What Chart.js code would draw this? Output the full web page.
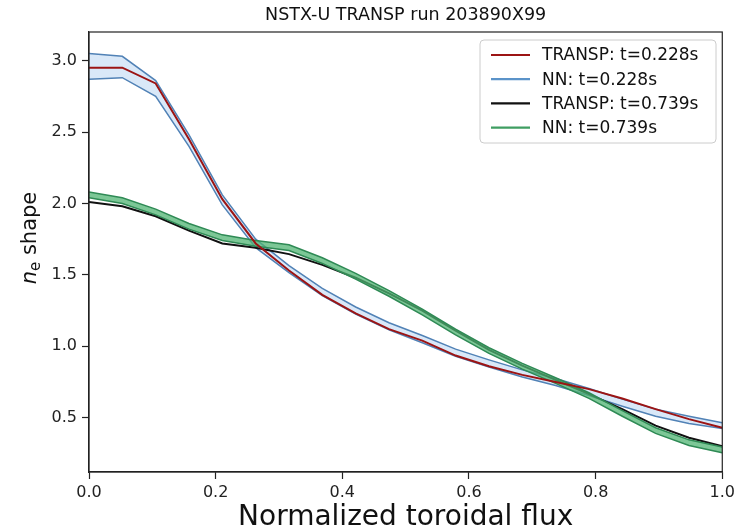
<!DOCTYPE html>
<html>
<head>
<meta charset="utf-8">
<script src="https://cdn.jsdelivr.net/npm/chart.js@4.4.1/dist/chart.umd.min.js"></script>
<style>
  html, body { margin: 0; padding: 0; background: #fff; }
  #wrap { width: 739px; height: 530px; }
</style>
</head>
<body>
<div id="wrap"><canvas id="chart" width="739" height="530"></canvas></div>
<script>
// Normalized toroidal flux grid (20 points)
const flux = [0, 0.0526, 0.1053, 0.1579, 0.2105, 0.2632, 0.3158, 0.3684, 0.4211, 0.4737,
              0.5263, 0.5789, 0.6316, 0.6842, 0.7368, 0.7895, 0.8421, 0.8947, 0.9474, 1.0];

// t = 0.228 s
const transpEarly = [2.95, 2.95, 2.84, 2.45, 2.03, 1.72, 1.53, 1.36, 1.23, 1.12,
                     1.04, 0.935, 0.86, 0.80, 0.75, 0.70, 0.635, 0.56, 0.49, 0.43];
const nnEarlyHigh = [3.05, 3.03, 2.86, 2.48, 2.06, 1.75, 1.565, 1.405, 1.275, 1.165,
                     1.075, 0.98, 0.905, 0.835, 0.775, 0.705, 0.63, 0.56, 0.51, 0.465];
const nnEarlyLow  = [2.87, 2.88, 2.75, 2.40, 1.99, 1.69, 1.515, 1.355, 1.225, 1.115,
                     1.025, 0.93, 0.855, 0.785, 0.725, 0.655, 0.58, 0.51, 0.46, 0.425];

// t = 0.739 s
const transpLate = [2.01, 1.98, 1.91, 1.81, 1.72, 1.69, 1.645, 1.57, 1.48, 1.37,
                    1.25, 1.11, 0.975, 0.865, 0.765, 0.665, 0.56, 0.445, 0.36, 0.30];
const nnLateHigh = [2.08, 2.04, 1.96, 1.86, 1.78, 1.74, 1.71, 1.62, 1.51, 1.39,
                    1.26, 1.12, 0.99, 0.88, 0.78, 0.675, 0.55, 0.43, 0.345, 0.295];
const nnLateLow  = [2.04, 2.00, 1.92, 1.82, 1.74, 1.70, 1.67, 1.58, 1.47, 1.35,
                    1.22, 1.08, 0.95, 0.84, 0.74, 0.635, 0.51, 0.39, 0.305, 0.255];

const xTicks = [0.0, 0.2, 0.4, 0.6, 0.8, 1.0];
const yTicks = [0.5, 1.0, 1.5, 2.0, 2.5, 3.0];

const legendLabels = ["TRANSP: t=0.228s", "NN: t=0.228s", "TRANSP: t=0.739s", "NN: t=0.739s"];
const legendColors = ["#9c1414", "#5b93c9", "#111111", "#3f9e62"];

const FONT = "'DejaVu Sans', sans-serif";

function pts(ys) {
    return flux.map((x, i) => ({ x: x, y: ys[i] }));
}

// Marco, títulos y leyenda dibujados sobre el lienzo
const decorPlugin = {
    id: "decor",
    afterDraw(chart) {
        const ctx = chart.ctx;
        const a = chart.chartArea;
        ctx.save();

        // frame
        ctx.strokeStyle = "#222";
        ctx.lineWidth = 1.2;
        ctx.strokeRect(a.left, a.top, a.right - a.left, a.bottom - a.top);

        // title
        ctx.fillStyle = "#111";
        ctx.textAlign = "center";
        ctx.textBaseline = "alphabetic";
        ctx.font = "17.5px " + FONT;
        ctx.fillText("NSTX-U TRANSP run 203890X99", (a.left + a.right) / 2, 20);

        // x title
        ctx.font = "28px " + FONT;
        ctx.fillText("Normalized toroidal flux", (a.left + a.right) / 2, 525);

        // y title: n_e shape
        ctx.save();
        ctx.translate(36, 238);
        ctx.rotate(-Math.PI / 2);
        ctx.textAlign = "left";
        const fs = 21;
        ctx.font = "oblique " + fs + "px " + FONT;
        const wn = ctx.measureText("n").width;
        ctx.font = Math.round(fs * 0.7) + "px " + FONT;
        const we = ctx.measureText("e").width;
        ctx.font = fs + "px " + FONT;
        const ws = ctx.measureText(" shape").width;
        const total = wn + we + ws;
        let x0 = -total / 2;
        ctx.font = "oblique " + fs + "px " + FONT;
        ctx.fillText("n", x0, 0);
        ctx.font = Math.round(fs * 0.7) + "px " + FONT;
        ctx.fillText("e", x0 + wn, 4);
        ctx.font = fs + "px " + FONT;
        ctx.fillText(" shape", x0 + wn + we, 0);
        ctx.restore();

        // legend
        const bx = 480, by = 40, bw = 236, bh = 103;
        ctx.fillStyle = "rgba(255,255,255,0.85)";
        ctx.strokeStyle = "#cccccc";
        ctx.lineWidth = 1;
        ctx.beginPath();
        ctx.roundRect(bx, by, bw, bh, 4);
        ctx.fill();
        ctx.stroke();
        ctx.font = "17px " + FONT;
        ctx.textAlign = "left";
        ctx.textBaseline = "middle";
        legendLabels.forEach((lab, i) => {
            const y = by + 15 + i * 24.2;
            ctx.strokeStyle = legendColors[i];
            ctx.lineWidth = 2.2;
            ctx.beginPath();
            ctx.moveTo(bx + 11, y);
            ctx.lineTo(bx + 50, y);
            ctx.stroke();
            ctx.fillStyle = "#111";
            ctx.fillText(lab, bx + 62, y + 1);
        });

        ctx.restore();
    }
};

const ctx = document.getElementById("chart").getContext("2d");

new Chart(ctx, {
    type: "line",
    data: {
        datasets: [
            {
                label: "TRANSP: t=0.228s",
                data: pts(transpEarly),
                borderColor: "#9c1414",
                borderWidth: 2,
                order: 1,
            },
            {
                label: "NN high t=0.739s",
                data: pts(nnLateHigh),
                borderColor: "#2f8a55",
                borderWidth: 1.5,
                order: 2,
            },
            {
                label: "NN: t=0.739s",
                data: pts(nnLateLow),
                borderColor: "#2f8a55",
                borderWidth: 1.5,
                backgroundColor: "rgba(80,180,115,0.75)",
                fill: "-1",
                order: 3,
            },
            {
                label: "TRANSP: t=0.739s",
                data: pts(transpLate),
                borderColor: "#111111",
                borderWidth: 2,
                order: 4,
            },
            {
                label: "NN high t=0.228s",
                data: pts(nnEarlyHigh),
                borderColor: "#5182b6",
                borderWidth: 1.5,
                order: 5,
            },
            {
                label: "NN: t=0.228s",
                data: pts(nnEarlyLow),
                borderColor: "#5182b6",
                borderWidth: 1.5,
                backgroundColor: "rgba(170,205,240,0.45)",
                fill: "-1",
                order: 6,
            },
        ],
    },
    options: {
        responsive: false,
        animation: false,
        devicePixelRatio: 1,
        layout: { padding: { left: 0, right: 16, top: 32, bottom: 0 } },
        elements: {
            point: { radius: 0 },
            line: { tension: 0, fill: false },
        },
        plugins: {
            legend: { display: false },
            title: { display: false },
            tooltip: { enabled: false },
        },
        scales: {
            x: {
                type: "linear",
                min: 0,
                max: 1,
                afterBuildTicks(scale) {
                    scale.ticks = xTicks.map(v => ({ value: v }));
                },
                afterFit(scale) {
                    scale.height = 58;
                },
                grid: {
                    drawOnChartArea: false,
                    tickLength: 7,
                    tickColor: "#222",
                    tickWidth: 1.2,
                },
                border: { display: true, color: "#222", width: 1.2 },
                ticks: {
                    color: "#222",
                    padding: 4,
                    maxRotation: 0,
                    font: { family: FONT, size: 16 },
                    callback: v => Number(v).toFixed(1),
                },
            },
            y: {
                type: "linear",
                min: 0.12,
                max: 3.2,
                afterBuildTicks(scale) {
                    scale.ticks = yTicks.map(v => ({ value: v }));
                },
                afterFit(scale) {
                    scale.width = 89;
                },
                grid: {
                    drawOnChartArea: false,
                    tickLength: 7,
                    tickColor: "#222",
                    tickWidth: 1.2,
                },
                border: { display: true, color: "#222", width: 1.2 },
                ticks: {
                    color: "#222",
                    padding: 5,
                    font: { family: FONT, size: 16 },
                    callback: v => Number(v).toFixed(1),
                },
            },
        },
    },
    plugins: [decorPlugin],
});
</script>
</body>
</html>
